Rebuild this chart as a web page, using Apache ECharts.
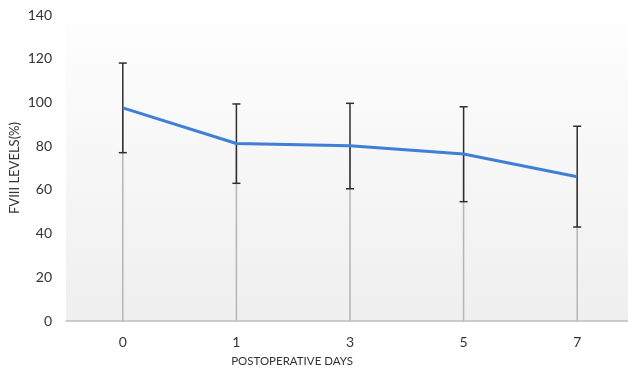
<!DOCTYPE html>
<html><head><meta charset="utf-8">
<script src="https://cdn.jsdelivr.net/npm/echarts@6/dist/echarts.min.js"></script>
<style>html,body{margin:0;padding:0;background:#fff}#c{width:628px;height:371px}</style>
</head><body><div id="c"></div>
<script>
var categories = ['0','1','3','5','7'];
var meanValues = [97.5, 81.2, 80.2, 76.4, 66.0];
var upperValues = [118.0, 99.3, 99.6, 98.0, 89.1];
var lowerValues = [77.0, 63.0, 60.5, 54.6, 43.0];
var yTicks = {min: 0, max: 140, interval: 20};

var chart = echarts.init(document.getElementById('c'));
var font = 'Lato, "Open Sans", sans-serif';

var errData = categories.map(function(c,i){ return [i, lowerValues[i], upperValues[i]]; });
var dropData = categories.map(function(c,i){ return [i, meanValues[i]]; });

chart.setOption({
  animation: false,
  grid: {left: 66, width: 568, top: 15, height: 306, show: true, borderWidth: 0,
    outerBoundsMode: 'none', containLabel: false,
    backgroundColor: {type:'linear', x:0, y:0, x2:0, y2:1, colorStops:[{offset:0,color:'#ffffff'},{offset:0.05,color:'#fdfdfd'},{offset:1,color:'#efefef'}]}},
  xAxis: {type: 'category', data: categories, boundaryGap: true,
    axisLine: {show: true, lineStyle: {color: '#bfbfbf', width: 1.5}},
    axisTick: {show: false},
    axisLabel: {color: '#333', fontSize: 14, fontFamily: font, margin: 14},
    splitLine: {show: false}},
  yAxis: {type: 'value', min: yTicks.min, max: yTicks.max, interval: yTicks.interval,
    name: 'FVIII LEVELS(%)', nameLocation: 'middle', nameGap: 45, nameRotate: 90,
    nameMoveOverlap: false,
    nameTextStyle: {color: '#333', fontSize: 13, fontFamily: font},
    axisLine: {show: false}, axisTick: {show: false},
    axisLabel: {color: '#333', fontSize: 14, fontFamily: font, margin: 14},
    splitLine: {show: false}},
  graphic: [{type: 'text', x: 292, y: 355,
    style: {text: 'POSTOPERATIVE DAYS', fill: '#333', font: '11.5px ' + font, textAlign: 'center'}}],
  series: [
    {type: 'custom', data: dropData, z: 1,
      renderItem: function(params, api){
        var p = api.coord([api.value(0), api.value(1)]);
        var b = api.coord([api.value(0), 0]);
        return {type:'line', shape:{x1:p[0], y1:p[1], x2:b[0], y2:b[1]},
          style:{stroke:'#b5b5b5', lineWidth:1.5}};
      }},
    {type: 'custom', data: errData, z: 2,
      renderItem: function(params, api){
        var lo = api.coord([api.value(0), api.value(1)]);
        var hi = api.coord([api.value(0), api.value(2)]);
        var w = 4;
        var st = {stroke:'#2e2e2e', lineWidth:1.5};
        return {type:'group', children:[
          {type:'line', shape:{x1:lo[0], y1:lo[1], x2:hi[0], y2:hi[1]}, style:st},
          {type:'line', shape:{x1:hi[0]-w, y1:hi[1], x2:hi[0]+w, y2:hi[1]}, style:st},
          {type:'line', shape:{x1:lo[0]-w, y1:lo[1], x2:lo[0]+w, y2:lo[1]}, style:st}
        ]};
      }},
    {type: 'line', data: meanValues, z: 3, symbol: 'none',
      lineStyle: {color: '#3f7fd6', width: 3}}
  ]
});
</script></body></html>
